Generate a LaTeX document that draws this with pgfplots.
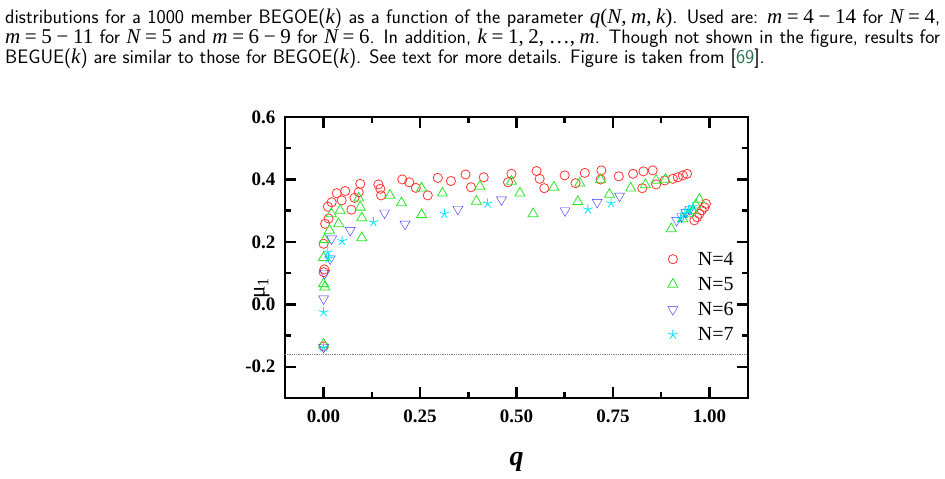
\documentclass[border=0pt]{standalone}
\usepackage{fontspec}
\usepackage{pgfplots}
\pgfplotsset{compat=1.18}
\newfontfamily\timesfont{Liberation Serif}
\definecolor{linkgreen}{RGB}{40,120,80}
\definecolor{mred}{RGB}{255,50,50}
\definecolor{mgreen}{RGB}{40,230,40}
\definecolor{mblue}{RGB}{50,50,255}
\definecolor{mcyan}{RGB}{0,230,255}
\newcommand\capline[1]{\makebox[935pt][s]{#1}}
\newcommand\M[1]{{\timesfont\fontsize{21}{20}\selectfont #1}}
\newcommand\vi[1]{{\itshape #1}}
\newcommand\msp{\kern.22em}
\begin{document}
\begin{tikzpicture}
\useasboundingbox (0pt,0pt) rectangle (945pt,479pt);
\begin{scope}[every node/.style={anchor=base west, inner sep=0pt, font=\fontsize{19.5}{20}\selectfont\sffamily}]
\node at (5pt,455.5pt) {\capline{distributions for a 1000 member BEGOE(\M{\vi{k}}) as a function of the parameter \M{\vi{q}(\vi{N},\msp\vi{m},\msp\vi{k})}. Used are: \M{\vi{m}\msp=\msp4\msp−\msp14} for \M{\vi{N}\msp=\msp4},}};
\node at (5pt,435.5pt) {\capline{\M{\vi{m}\msp=\msp5\msp−\msp11} for \M{\vi{N}\msp=\msp5} and \M{\vi{m}\msp=\msp6\msp−\msp9} for \M{\vi{N}\msp=\msp6}. In addition, \M{\vi{k}\msp=\msp1,\msp 2,\msp…,\msp\vi{m}}. Though not shown in the figure, results for}};
\node at (5pt,415.5pt) {BEGUE(\M{\vi{k}}) are similar to those for BEGOE(\M{\vi{k}}). See text for more details. Figure is taken from [{\color{linkgreen}69}].};
\end{scope}
\begin{axis}[at={(285pt,81pt)}, anchor=south west, scale only axis, width=463pt, height=281pt,
  xmin=-0.1, xmax=1.1, ymin=-0.3, ymax=0.6,
  xtick={0,0.25,0.5,0.75,1}, ytick={-0.2,0,0.2,0.4,0.6},
  minor x tick num=1, minor y tick num=1,
  tick align=inside, major tick length=11pt, minor tick length=6pt,
  tick style={black, line width=2.5pt},
  axis line style={line width=2.5pt},
  /pgf/number format/assume math mode=true,
  xticklabel style={/pgf/number format/.cd, fixed, fixed zerofill, precision=2, /tikz/yshift=-8pt},
  yticklabel style={/pgf/number format/.cd, fixed, fixed zerofill, precision=1, /tikz/xshift=-6pt},
  ticklabel style={font=\timesfont\bfseries\fontsize{19}{19}\selectfont},
  xlabel={\timesfont\bfseries\itshape q},
  xlabel style={at={(axis description cs:0.5,-0.228)}, anchor=center, font=\fontsize{28}{28}\selectfont},
  ylabel={\timesfont μ\textsubscript{1}},
  ylabel style={at={(axis description cs:-0.05,0.39)}, anchor=center, rotate=0, font=\fontsize{23}{23}\selectfont},
  legend style={at={(axis description cs:0.82,0.535)}, anchor=north west, draw=none, fill=none,
    font=\timesfont\fontsize{20}{20}\selectfont, row sep=6.5pt, column sep=18pt},
  legend cell align=left,
  mark options={solid, line width=0.8pt},
]
\draw[densely dotted, gray, line width=0.8pt] (axis cs:-0.1,-0.16) -- (axis cs:1.1,-0.16);
\addplot[only marks, mark=o, mark size=4.6pt, mred] coordinates {
(0,0.103) (0.002,0.112) (0,0.194) (0.004,0.258) (0.013,0.275) (0.011,0.313) (0.021,0.327)
(0.034,0.356) (0.056,0.363) (0.047,0.333) (0.072,0.303) (0.080,0.341) (0.091,0.359) (0.095,0.386)
(0.142,0.384) (0.147,0.370) (0.149,0.349) (0.204,0.400) (0.222,0.391) (0.239,0.373) (0.270,0.349)
(0.296,0.405) (0.330,0.395) (0.368,0.416) (0.382,0.375) (0.415,0.407) (0.478,0.391) (0.487,0.418)
(0.552,0.427) (0.560,0.402) (0.572,0.372) (0.625,0.413) (0.653,0.388) (0.677,0.421) (0.720,0.429)
(0.718,0.400) (0.765,0.410) (0.802,0.418) (0.829,0.426) (0.853,0.429) (0.826,0.372) (0.862,0.384)
(0.884,0.397) (0.905,0.402) (0.918,0.407) (0.931,0.413) (0.942,0.418)
(0.991,0.322) (0.987,0.311) (0.980,0.301) (0.974,0.290) (0.968,0.279) (0.961,0.269)
(0,-0.135)
};
\addlegendentry{N=4}
\addplot[only marks, mark=triangle, mark size=5.8pt, mgreen] coordinates {
(0,0.066) (0.003,0.055) (0,0.150) (0.003,0.207) (0.015,0.237) (0.039,0.258) (0.020,0.290)
(0.043,0.301) (0.091,0.340) (0.095,0.311) (0.099,0.277) (0.099,0.213) (0.172,0.349) (0.202,0.325)
(0.254,0.372) (0.254,0.287) (0.308,0.356) (0.405,0.378) (0.396,0.330) (0.487,0.394) (0.509,0.356)
(0.543,0.290) (0.597,0.375) (0.659,0.329) (0.664,0.388) (0.718,0.399) (0.741,0.352) (0.796,0.372)
(0.834,0.383) (0.862,0.397) (0.886,0.400)
(0.901,0.242) (0.931,0.274) (0.945,0.290) (0.957,0.301) (0.965,0.318) (0.974,0.336)
(0,-0.128)
};
\addlegendentry{N=5}
\addplot[only marks, mark=triangle, mark size=5.8pt, mark options={rotate=180}, mblue] coordinates {
(0,-0.137) (0,0.018) (0.003,0.100) (0.017,0.146) (0.021,0.210) (0.069,0.237) (0.158,0.293)
(0.211,0.257) (0.348,0.305) (0.461,0.335) (0.626,0.300) (0.709,0.327) (0.767,0.347)
(0.915,0.269) (0.928,0.281) (0.939,0.294) (0.949,0.304)
};
\addlegendentry{N=6}
\addplot[only marks, mark=star, mark size=5pt, mcyan] coordinates {
(0,-0.138) (0,-0.025) (0.013,0.147) (0.011,0.167) (0.048,0.203) (0.129,0.263) (0.313,0.290)
(0.425,0.323) (0.685,0.304) (0.745,0.324)
(0.925,0.274) (0.936,0.291) (0.946,0.301) (0.957,0.313)
};
\addlegendentry{N=7}
\end{axis}
\end{tikzpicture}
\end{document}
